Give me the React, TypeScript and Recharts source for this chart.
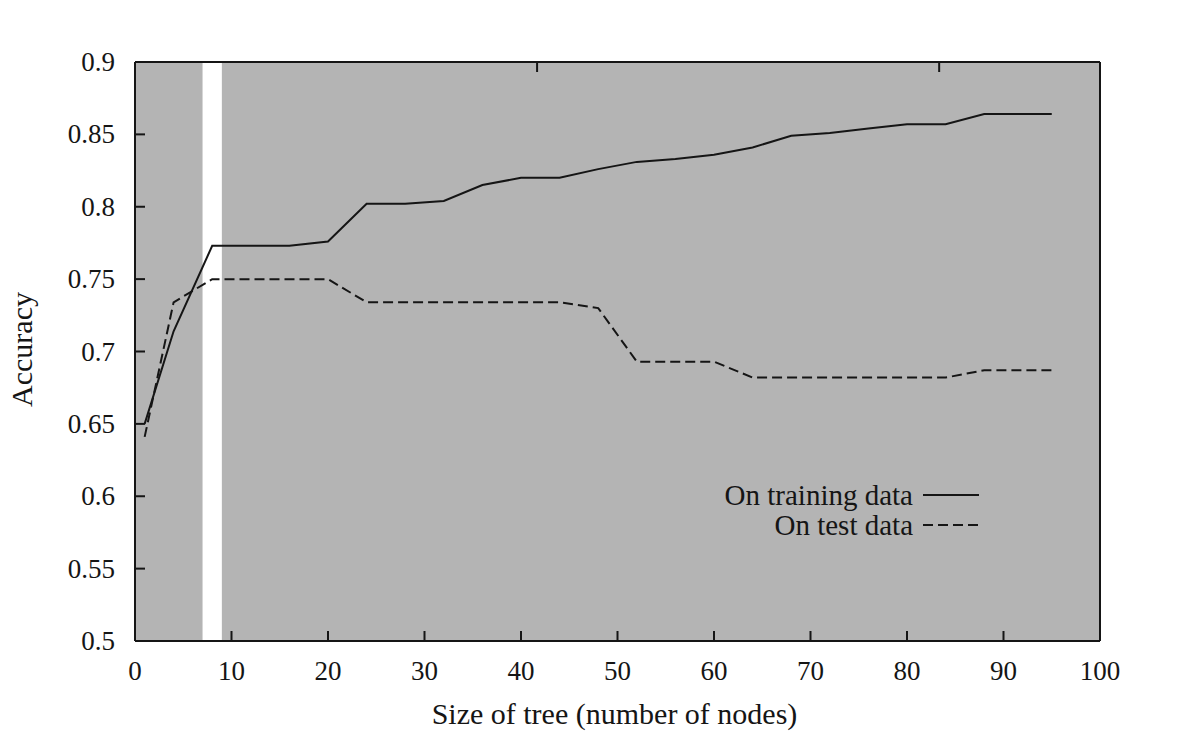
import React from 'react';
import { LineChart, Line, XAxis, YAxis, CartesianGrid, ReferenceArea, Legend, Label } from 'recharts';

const treeSizes = [1, 4, 8, 12, 16, 20, 24, 28, 32, 36, 40, 44, 48, 52, 56, 60, 64, 68, 72, 76, 80, 84, 88, 92, 95];
const trainingAcc = [0.65, 0.714, 0.773, 0.773, 0.773, 0.776, 0.802, 0.802, 0.804, 0.815, 0.82, 0.82, 0.826, 0.831, 0.833, 0.836, 0.841, 0.849, 0.851, 0.854, 0.857, 0.857, 0.864, 0.864, 0.864];
const testAcc = [0.641, 0.734, 0.75, 0.75, 0.75, 0.75, 0.734, 0.734, 0.734, 0.734, 0.734, 0.734, 0.73, 0.693, 0.693, 0.693, 0.682, 0.682, 0.682, 0.682, 0.682, 0.682, 0.687, 0.687, 0.687];
const xTicks = [0, 10, 20, 30, 40, 50, 60, 70, 80, 90, 100];
const yTicks = [0.5, 0.55, 0.6, 0.65, 0.7, 0.75, 0.8, 0.85, 0.9];
const highlightBand = [7, 9];
const seriesOrder = ['train', 'test'];

const data = treeSizes.map((size, i) => ({ size, train: trainingAcc[i], test: testAcc[i] }));

const FONT = '"Liberation Serif", "Times New Roman", serif';
const INK = '#151515';
const TICK_LEN = 10;

const BottomTick = (props: any) => {
    const { x, y, payload } = props;
    return (
        <g>
            <line x1={x} x2={x} y1={y} y2={y - TICK_LEN} stroke={INK} strokeWidth={2} />
            <text x={x} y={y + 39} textAnchor="middle" fontFamily={FONT} fontSize={27} fill={INK}>
                {payload.value}
            </text>
        </g>
    );
};

const LeftTick = (props: any) => {
    const { x, y, payload } = props;
    return (
        <g>
            <line x1={x} x2={x + TICK_LEN} y1={y} y2={y} stroke={INK} strokeWidth={2} />
            <text x={x - 20} y={y + 9} textAnchor="end" fontFamily={FONT} fontSize={27} fill={INK}>
                {String(payload.value)}
            </text>
        </g>
    );
};

const TopTick = (props: any) => {
    const { x, y } = props;
    return <line x1={x} x2={x} y1={y} y2={y + TICK_LEN} stroke={INK} strokeWidth={2} />;
};

const RightTick = (props: any) => {
    const { x, y } = props;
    return <line x1={x} x2={x - TICK_LEN} y1={y} y2={y} stroke={INK} strokeWidth={2} />;
};

const renderLegend = (props: any) => {
    const items = [...(props.payload || [])].sort(
        (a: any, b: any) => seriesOrder.indexOf(a.dataKey) - seriesOrder.indexOf(b.dataKey)
    );
    return (
        <div style={{ fontFamily: FONT, fontSize: 29, color: INK }}>
            {items.map((entry: any, i: number) => (
                <div key={i} style={{ display: 'flex', justifyContent: 'flex-end', alignItems: 'flex-start', height: 30, lineHeight: '30px' }}>
                    <span>{entry.value}</span>
                    <svg width={56} height={30} style={{ marginLeft: 10 }}>
                        <line
                            x1={0}
                            x2={56}
                            y1={15}
                            y2={15}
                            stroke={INK}
                            strokeWidth={2}
                            strokeDasharray={entry.payload?.strokeDasharray}
                        />
                    </svg>
                </div>
            ))}
        </div>
    );
};

export default function App() {
    return (
        <div style={{ position: 'absolute', left: 0, top: 0, background: '#fff' }}>
            <LineChart width={1177} height={735} data={data} margin={{ top: 61, right: 76, bottom: 34, left: 75 }}>
                <CartesianGrid horizontal={false} vertical={false} fill="#b4b4b4" fillOpacity={1} />
                <ReferenceArea x1={highlightBand[0]} x2={highlightBand[1]} y1={0.5} y2={0.9} fill="#ffffff" fillOpacity={1} stroke="none" />
                <XAxis
                    dataKey="size"
                    type="number"
                    domain={[0, 100]}
                    ticks={xTicks}
                    interval={0}
                    height={60}
                    tickSize={0}
                    tickMargin={0}
                    tickLine={false}
                    axisLine={{ stroke: INK, strokeWidth: 2 }}
                    tick={<BottomTick />}
                >
                    <Label
                        content={(p: any) => {
                            const vb = p.viewBox;
                            return (
                                <text x={vb.x + vb.width / 2 - 3} y={vb.y + 83} textAnchor="middle" fontFamily={FONT} fontSize={30} fill={INK}>
                                    Size of tree (number of nodes)
                                </text>
                            );
                        }}
                    />
                </XAxis>
                <XAxis
                    xAxisId="top"
                    orientation="top"
                    type="number"
                    domain={[0, 100]}
                    ticks={xTicks}
                    interval={0}
                    height={1}
                    tickSize={0}
                    tickMargin={0}
                    tickLine={false}
                    axisLine={{ stroke: INK, strokeWidth: 2 }}
                    tick={<TopTick />}
                />
                <YAxis
                    type="number"
                    domain={[0.5, 0.9]}
                    ticks={yTicks}
                    interval={0}
                    width={60}
                    tickSize={0}
                    tickMargin={0}
                    tickLine={false}
                    axisLine={{ stroke: INK, strokeWidth: 2 }}
                    tick={<LeftTick />}
                >
                    <Label
                        content={(p: any) => {
                            const vb = p.viewBox;
                            const cx = 32;
                            const cy = vb.y + vb.height / 2 - 2;
                            return (
                                <text x={cx} y={cy} transform={`rotate(-90 ${cx} ${cy})`} textAnchor="middle" fontFamily={FONT} fontSize={30} fill={INK}>
                                    Accuracy
                                </text>
                            );
                        }}
                    />
                </YAxis>
                <YAxis
                    yAxisId="right"
                    orientation="right"
                    type="number"
                    domain={[0.5, 0.9]}
                    ticks={yTicks}
                    interval={0}
                    width={1}
                    tickSize={0}
                    tickMargin={0}
                    tickLine={false}
                    axisLine={{ stroke: INK, strokeWidth: 2 }}
                    tick={<RightTick />}
                />
                <Legend
                    layout="horizontal"
                    verticalAlign="middle"
                    align="center"
                    content={renderLegend}
                    wrapperStyle={{ left: 639, top: 480, width: 340 }}
                />
                <Line
                    name="On training data"
                    dataKey="train"
                    type="linear"
                    stroke={INK}
                    strokeWidth={2}
                    dot={false}
                    isAnimationActive={false}
                />
                <Line
                    name="On test data"
                    dataKey="test"
                    type="linear"
                    stroke={INK}
                    strokeWidth={2}
                    strokeDasharray="10 5"
                    dot={false}
                    isAnimationActive={false}
                />
            </LineChart>
        </div>
    );
}
